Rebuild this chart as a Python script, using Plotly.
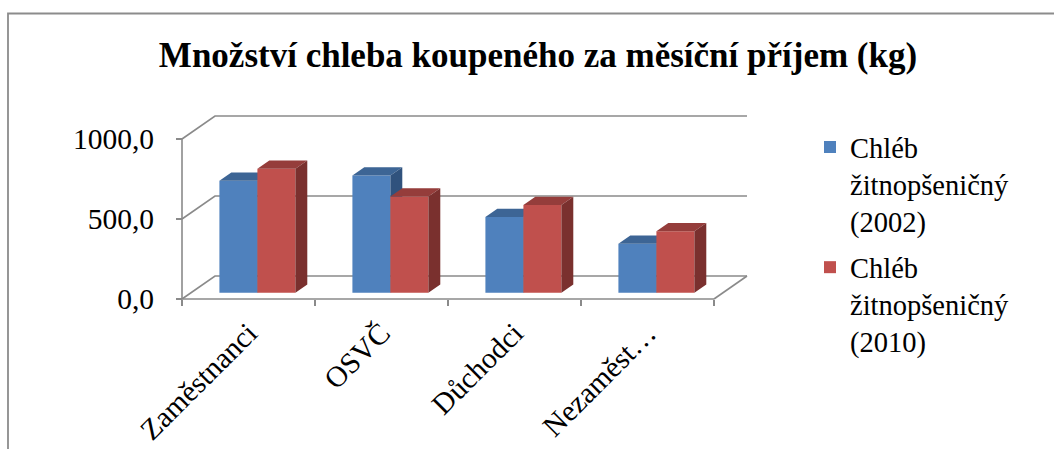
import plotly.graph_objects as go

# ---------------- data ----------------
categories = ["Zaměstnanci", "OSVČ", "Důchodci", "Nezaměst…"]
series_names = ["Chléb<br>žitnopšeničný<br>(2002)", "Chléb<br>žitnopšeničný<br>(2010)"]
values_2002 = [700, 733, 473, 306]
values_2010 = [775, 602, 548, 385]
y_ticks = [0, 500, 1000]
title_text = "Množství chleba koupeného za měsíční příjem (kg)"

# ---------------- style / geometry ----------------
W, H = 1054, 449
FONT = "Liberation Serif, Times New Roman, serif"
GRID = "#8a8a8a"
front_cols = ["#4F81BD", "#C0504D"]
top_cols = ["#3D6595", "#953D3B"]
side_cols = ["#30527D", "#7A302E"]

ORIGIN_X_PX, ORIGIN_Y_PX = 182, 299     # pixel of (x=0, y=0) front plane
PX_PER_X, PX_PER_Y = 133.0, 0.16        # scale
DEPTH_X = 33 / PX_PER_X                 # oblique depth offset in x units
DEPTH_Y = 23 / PX_PER_Y                 # oblique depth offset in y units
BAR_W = 1 / 3.5                         # gap width 150 %
BAR_F = 0.27                            # depth fraction of bar front face
BAR_D = 0.36                            # bar depth fraction

ML, MR, MT, MB = 172, 290, 104, 140
plot_w = W - ML - MR
plot_h = H - MT - MB
x_range = [(ML - ORIGIN_X_PX) / PX_PER_X, (W - MR - ORIGIN_X_PX) / PX_PER_X]
y_range = [(ORIGIN_Y_PX - (H - MB)) / PX_PER_Y, (ORIGIN_Y_PX - MT) / PX_PER_Y]
n = len(categories)

fig = go.Figure()

# ---- walls / gridlines (main subplot) ----
gx, gy = [], []
for v in y_ticks:
    gx += [0, DEPTH_X, n + DEPTH_X, None]
    gy += [v, v + DEPTH_Y, v + DEPTH_Y, None]
# floor right edge
gx += [n, n + DEPTH_X, None]
gy += [0, DEPTH_Y, None]
# front category axis line
gx += [0, n, None]
gy += [0, 0, None]
# front value axis line
gx += [0, 0, None]
gy += [0, max(y_ticks), None]
fig.add_trace(go.Scatter(x=gx, y=gy, mode="lines", line=dict(color=GRID, width=1.6),
                         showlegend=False, hoverinfo="skip", xaxis="x", yaxis="y"))

# ---- bars ----
all_vals = [values_2002, values_2010]
base = BAR_F * DEPTH_Y
dx, dy = BAR_D * DEPTH_X, BAR_D * DEPTH_Y
for s, vals in enumerate(all_vals):
    xa, ya = ("x2", "y2") if s == 0 else ("x3", "y3")
    lefts = [i + 0.5 - BAR_W + s * BAR_W + BAR_F * DEPTH_X for i in range(n)]
    fig.add_trace(go.Bar(
        x=[l + BAR_W / 2 for l in lefts], y=vals, base=[base] * n, width=[BAR_W] * n,
        marker=dict(color=front_cols[s], line=dict(width=0)),
        name=series_names[s], legendgroup=f"g{s}", xaxis=xa, yaxis=ya,
        hoverinfo="skip"))
    tx, ty, sx, sy = [], [], [], []
    for l, v in zip(lefts, vals):
        r = l + BAR_W
        top = base + v
        tx += [l, r, r + dx, l + dx, l, None]
        ty += [top, top, top + dy, top + dy, top, None]
        sx += [r, r, r + dx, r + dx, r, None]
        sy += [base, top, top + dy, base + dy, base, None]
    fig.add_trace(go.Scatter(x=tx, y=ty, mode="lines", fill="toself", fillcolor=top_cols[s],
                             line=dict(width=0, color=top_cols[s]), showlegend=False,
                             hoverinfo="skip", xaxis=xa, yaxis=ya))
    fig.add_trace(go.Scatter(x=sx, y=sy, mode="lines", fill="toself", fillcolor=side_cols[s],
                             line=dict(width=0, color=side_cols[s]), showlegend=False,
                             hoverinfo="skip", xaxis=xa, yaxis=ya))

x_pos = (0 - y_range[0]) / (y_range[1] - y_range[0])
y_pos = (0 - x_range[0]) / (x_range[1] - x_range[0])

hidden = dict(range=x_range, visible=False, fixedrange=True, automargin=False)
hidden_y = dict(range=y_range, visible=False, fixedrange=True, automargin=False)

# frame border (paper coords)
def px_to_paper_x(px):
    return (px - ML) / plot_w

def px_to_paper_y(py):
    return (H - MB - py) / plot_h

fig.add_shape(type="rect", xref="paper", yref="paper",
              x0=px_to_paper_x(8), x1=px_to_paper_x(W + 20),
              y0=px_to_paper_y(H + 20), y1=px_to_paper_y(13.5),
              line=dict(color="#8c8c8c", width=1.8), fillcolor="rgba(0,0,0,0)", layer="below")

fig.update_layout(
    width=W, height=H,
    margin=dict(l=ML, r=MR, t=MT, b=MB, pad=0, autoexpand=False),
    paper_bgcolor="white", plot_bgcolor="rgba(0,0,0,0)",
    barmode="overlay", separators=", ",
    font=dict(family=FONT, color="black", size=28),
    title=dict(text="<b>" + title_text + "</b>", x=538 / W, xanchor="center", xref="container",
               y=1 - 55 / H, yref="container", yanchor="middle",
               font=dict(family=FONT, size=35, color="black")),
    xaxis=dict(range=x_range, anchor="free", position=x_pos, showgrid=False, zeroline=False,
               showline=False, tickmode="array", automargin=False,
               tickvals=[i + 0.5 for i in range(n)], ticktext=categories, ticks="",
               tickangle=-45, tickfont=dict(size=29.5), ticklabelshift=0,
               ticklabelstandoff=10,
               minor=dict(tickmode="array", tickvals=list(range(n + 1)), ticks="outside",
                          ticklen=6, tickwidth=1.6, tickcolor=GRID, showgrid=False),
               fixedrange=True),
    yaxis=dict(range=y_range, anchor="free", position=y_pos, showgrid=False, zeroline=False,
               showline=False, tickmode="array", tickvals=y_ticks, tickformat=".1f",
               ticks="outside", ticklen=6, tickwidth=1.6, tickcolor=GRID, automargin=False,
               ticklabelstandoff=16, tickfont=dict(size=29.5), fixedrange=True),
    xaxis2=dict(overlaying="x", anchor="y2", **hidden),
    yaxis2=dict(overlaying="y", anchor="x2", **hidden_y),
    xaxis3=dict(overlaying="x", anchor="y3", **hidden),
    yaxis3=dict(overlaying="y", anchor="x3", **hidden_y),
    legend=dict(xref="container", yref="container", x=810 / W, xanchor="left",
                y=1 - 122 / H, yanchor="top", valign="top", tracegroupgap=6,
                maxheight=330, font=dict(size=28.5), bgcolor="rgba(0,0,0,0)", itemclick=False),
    showlegend=True,
)

# remove the browser's default page margin so the figure sits at the window origin
fig.write_html("out.html", post_script="document.body.style.margin='0';",
               config={"displayModeBar": False})
